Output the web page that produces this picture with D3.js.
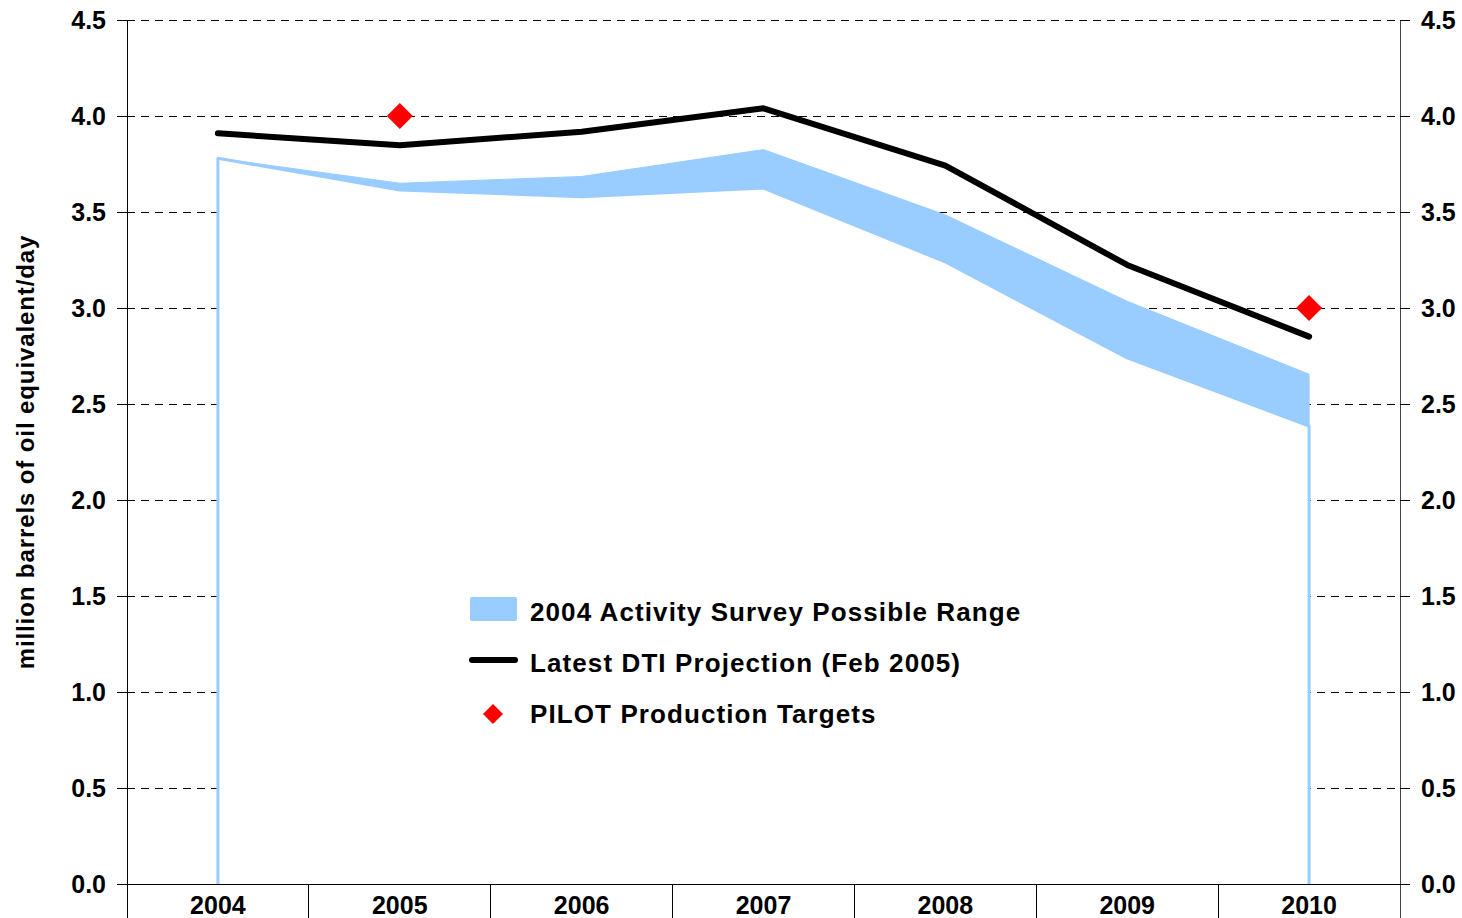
<!DOCTYPE html>
<html>
<head>
<meta charset="utf-8">
<script src="https://cdn.jsdelivr.net/npm/d3@7"></script>
<style>
  html, body { margin: 0; padding: 0; background: #fff; }
  svg { display: block; font-family: "Liberation Sans", Arial, sans-serif; font-weight: bold; }
</style>
</head>
<body>
<div id="chart"></div>
<script>
// years along the bottom
const years = ['2004', '2005', '2006', '2007', '2008', '2009', '2010']
// 2004 Activity Survey possible range (lower and upper bounds)
const rangeLow = [3.78, 3.615, 3.58, 3.625, 3.24, 2.74, 2.385]
const rangeHigh = [3.78, 3.65, 3.685, 3.825, 3.485, 3.035, 2.655]
// Latest DTI projection (Feb 2005)
const dti = [3.91, 3.848, 3.918, 4.04, 3.742, 3.224, 2.851]
// PILOT production targets
const pilotYears = ['2005', '2010']
const pilotValues = [4.0, 3.0]
const yTicks = [0, 0.5, 1.0, 1.5, 2.0, 2.5, 3.0, 3.5, 4.0, 4.5]
const legendLabels = ['2004 Activity Survey Possible Range', 'Latest DTI Projection (Feb 2005)', 'PILOT Production Targets']

const WIDTH = 1462
const HEIGHT = 918
const LEFT = 127
const RIGHT = 1400
const TOP = 20
const BOTTOM = 884
const BLUE = '#99ccff'

const svg = d3.select('#chart').append('svg')
  .attr('width', WIDTH)
  .attr('height', HEIGHT)

const x = d3.scaleBand().domain(years).range([LEFT, RIGHT]).padding(0)
const y = d3.scaleLinear().domain([0, 4.5]).range([BOTTOM, TOP])
const cx = (d) => x(d) + x.bandwidth() / 2

// dashed gridlines
svg.append('g')
  .attr('shape-rendering', 'crispEdges')
  .selectAll('line')
  .data(yTicks.filter((t) => t > 0))
  .enter()
  .append('line')
  .attr('x1', LEFT).attr('x2', RIGHT)
  .attr('y1', (d) => y(d)).attr('y2', (d) => y(d))
  .attr('stroke', '#000')
  .attr('stroke-width', 1)
  .attr('stroke-dasharray', '8,6')

// lower bound area: white fill hides the grid, light blue outline
const rows = years.map((yr, i) => ({ yr, lo: rangeLow[i], hi: rangeHigh[i] }))
const lowPts = [[cx(years[0]), y(0)]]
  .concat(rows.map((r) => [cx(r.yr), y(r.lo)]))
  .concat([[cx(years[years.length - 1]), y(0)]])
svg.append('path')
  .attr('d', d3.line()(lowPts))
  .attr('fill', '#fff')
  .attr('stroke', BLUE)
  .attr('stroke-width', 3)
  .attr('stroke-linejoin', 'round')

// range band
svg.append('path')
  .datum(rows)
  .attr('d', d3.area().x((d) => cx(d.yr)).y0((d) => y(d.lo)).y1((d) => y(d.hi)))
  .attr('fill', BLUE)
  .attr('stroke', BLUE)
  .attr('stroke-width', 1)

// DTI projection line
svg.append('path')
  .datum(dti)
  .attr('d', d3.line().x((d, i) => cx(years[i])).y((d) => y(d)))
  .attr('fill', 'none')
  .attr('stroke', '#000')
  .attr('stroke-width', 6)
  .attr('stroke-linecap', 'round')
  .attr('stroke-linejoin', 'round')

// PILOT diamonds
const diamond = (s) => `M0,${-s}L${s},0L0,${s}L${-s},0Z`
svg.append('g')
  .selectAll('path')
  .data(pilotValues)
  .enter()
  .append('path')
  .attr('d', diamond(13))
  .attr('transform', (d, i) => `translate(${cx(pilotYears[i])},${y(d)})`)
  .attr('fill', '#ff0000')

// axes
const axes = svg.append('g').attr('stroke', '#000').attr('stroke-width', 1).attr('shape-rendering', 'crispEdges')
axes.append('line').attr('x1', LEFT).attr('x2', LEFT).attr('y1', TOP).attr('y2', HEIGHT)
axes.append('line').attr('x1', RIGHT).attr('x2', RIGHT).attr('y1', TOP).attr('y2', HEIGHT).attr('stroke', '#444')
axes.append('line').attr('x1', LEFT - 10).attr('x2', RIGHT + 10).attr('y1', BOTTOM).attr('y2', BOTTOM)

// category separators below the x axis
axes.selectAll('.sep')
  .data(years.slice(1))
  .enter()
  .append('line')
  .attr('x1', (d) => x(d)).attr('x2', (d) => x(d))
  .attr('y1', BOTTOM).attr('y2', HEIGHT)

// y ticks on both sides
yTicks.forEach((t) => {
  axes.append('line').attr('x1', LEFT - 10).attr('x2', LEFT).attr('y1', y(t)).attr('y2', y(t))
  axes.append('line').attr('x1', RIGHT).attr('x2', RIGHT + 10).attr('y1', y(t)).attr('y2', y(t))
})

const fmt = d3.format('.1f')
svg.append('g')
  .selectAll('text')
  .data(yTicks)
  .enter()
  .append('text')
  .attr('x', LEFT - 21)
  .attr('y', (d) => y(d))
  .attr('dy', '0.36em')
  .attr('text-anchor', 'end')
  .attr('font-size', 25)
  .text(fmt)

svg.append('g')
  .selectAll('text')
  .data(yTicks)
  .enter()
  .append('text')
  .attr('x', RIGHT + 21)
  .attr('y', (d) => y(d))
  .attr('dy', '0.36em')
  .attr('text-anchor', 'start')
  .attr('font-size', 25)
  .text(fmt)

// year labels, clipped by the bottom edge as in the original
svg.append('g')
  .selectAll('text')
  .data(years)
  .enter()
  .append('text')
  .attr('x', (d) => cx(d))
  .attr('y', 914)
  .attr('text-anchor', 'middle')
  .attr('font-size', 25)
  .text((d) => d)

// y axis title
svg.append('text')
  .attr('transform', 'translate(34,452) rotate(-90)')
  .attr('text-anchor', 'middle')
  .attr('font-size', 24)
  .attr('letter-spacing', 0.9)
  .text('million barrels of oil equivalent/day')

// legend
const legend = svg.append('g')
legend.append('rect')
  .attr('x', 470).attr('y', 597).attr('width', 47).attr('height', 24).attr('rx', 2)
  .attr('fill', BLUE)
legend.append('line')
  .attr('x1', 472).attr('x2', 515).attr('y1', 660).attr('y2', 660)
  .attr('stroke', '#000').attr('stroke-width', 6).attr('stroke-linecap', 'round')
legend.append('path')
  .attr('d', diamond(10))
  .attr('transform', 'translate(493,714)')
  .attr('fill', '#ff0000')

legend.selectAll('text')
  .data(legendLabels)
  .enter()
  .append('text')
  .attr('x', 530)
  .attr('y', (d, i) => 621 + i * 51)
  .attr('font-size', 26)
  .attr('letter-spacing', 1.1)
  .text((d) => d)
</script>
</body>
</html>
